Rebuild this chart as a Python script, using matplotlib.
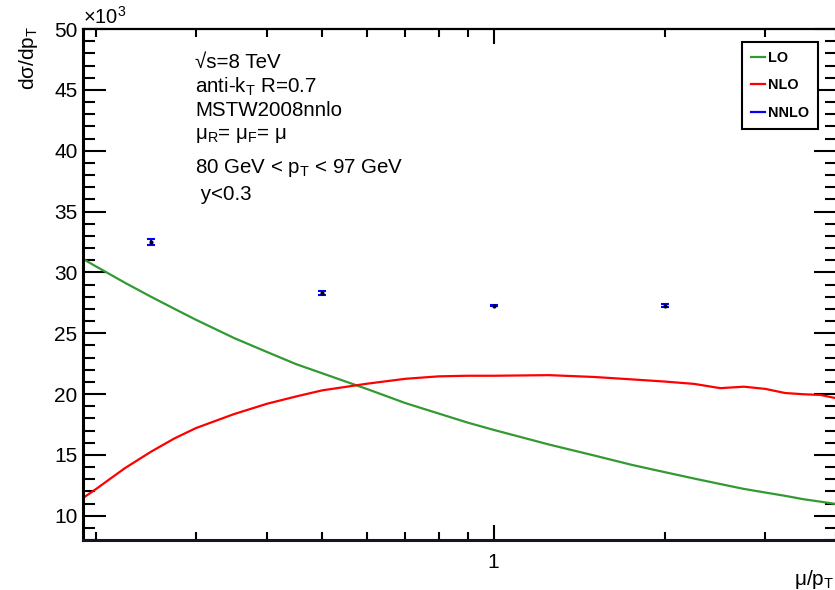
import matplotlib
matplotlib.use("Agg")
import matplotlib.pyplot as plt
from matplotlib.lines import Line2D
from matplotlib.ticker import LogLocator, NullFormatter, FixedFormatter, FixedLocator, MultipleLocator

# scale choice mu/pT and cross sections (units of 10^3)
mu = [0.19, 0.2, 0.225, 0.25, 0.275, 0.3, 0.35, 0.4, 0.45, 0.5, 0.6, 0.7, 0.8, 0.9, 1.0,
      1.25, 1.5, 1.75, 2.0, 2.25, 2.5, 2.75, 3.0, 3.25, 3.5, 3.75, 4.0]
lo = [31.1, 30.5, 29.15, 28.0, 27.0, 26.1, 24.6, 23.45, 22.45, 21.7, 20.4, 19.25, 18.4, 17.65,
      17.05, 15.85, 14.95, 14.17, 13.57, 13.05, 12.6, 12.2, 11.9, 11.63, 11.35, 11.15, 10.95]
nlo = [11.45, 12.17, 13.9, 15.25, 16.35, 17.2, 18.35, 19.2, 19.8, 20.3, 20.85, 21.25, 21.45,
       21.5, 21.5, 21.55, 21.4, 21.2, 21.02, 20.83, 20.48, 20.6, 20.42, 20.08, 19.98, 19.92,
       19.65]

nnlo_mu = [0.25, 0.5, 1.0, 2.0]
nnlo = [32.5, 28.3, 27.27, 27.27]
nnlo_err = [0.22, 0.15, 0.04, 0.1]

info_lines = [r"√s=8 TeV",
              r"anti-k$_{\rm T}$ R=0.7",
              r"MSTW2008nnlo",
              r"μ$_{\rm R}$= μ$_{\rm F}$= μ",
              r"80 GeV < p$_{\rm T}$ < 97 GeV",
              r" y<0.3"]

plt.rcParams['font.family'] = ['Liberation Sans', 'DejaVu Sans']
plt.rcParams['mathtext.fontset'] = 'custom'
plt.rcParams['mathtext.rm'] = 'Liberation Sans'
plt.rcParams['mathtext.it'] = 'Liberation Sans'

fig = plt.figure(figsize=(8.35, 5.9), dpi=100)
ax = fig.add_axes([83 / 835, 50 / 590, 753.5 / 835, 511 / 590])

l_lo, = ax.plot(mu, lo, color='#339933', lw=1.6)
l_nlo, = ax.plot(mu, nlo, color='#ff0000', lw=1.6)
ax.errorbar(nnlo_mu, nnlo, yerr=nnlo_err, fmt='o', ms=2, color='black',
            ecolor='#0000ff', elinewidth=1.5, capsize=3, capthick=1.5)

ax.set_xscale('log')
ax.set_xlim(0.19, 4.0)
ax.set_ylim(8, 50)

ax.xaxis.set_major_locator(FixedLocator([1.0]))
ax.xaxis.set_major_formatter(FixedFormatter(['1']))
ax.xaxis.set_minor_locator(LogLocator(base=10, subs=range(2, 10)))
ax.xaxis.set_minor_formatter(NullFormatter())
ax.yaxis.set_major_locator(MultipleLocator(5))
ax.yaxis.set_minor_locator(MultipleLocator(1))

ax.tick_params(axis='both', which='both', direction='in', top=True, right=True, width=1.5)
ax.tick_params(axis='y', which='major', length=16.5, labelsize=15, pad=4)
ax.tick_params(axis='y', which='minor', length=8.5)
ax.tick_params(axis='x', which='major', length=11, labelsize=15, pad=9)
ax.tick_params(axis='x', which='minor', length=5.5)
for s in ax.spines.values():
    s.set_linewidth(1.6)
ax.spines['left'].set_linewidth(2.2)
ax.spines['bottom'].set_linewidth(2.2)
ax.spines['bottom'].set_color('#15152a')

ax.set_xlabel(r"μ/p$_{\rm T}$", fontsize=15, loc='right')
ax.xaxis.set_label_coords(0.997, -0.054)
ax.set_ylabel(r"dσ/dp$_{\rm T}$", fontsize=15, loc='top')
ax.yaxis.set_label_coords(-0.0574, 1.006)
ax.text(0.0, 1.003, r"×10$^{3}$", transform=ax.transAxes, fontsize=14.5,
        ha='left', va='bottom')

y0 = 0.935
steps = [0, 0.048, 0.094, 0.143, 0.207, 0.258]
for line, dy in zip(info_lines, steps):
    ax.text(0.1485, y0 - dy, line, transform=ax.transAxes, fontsize=14.8,
            ha='left', va='center')

handles = [l_lo, l_nlo, Line2D([], [], color='#0000ff', lw=1.6)]
leg = ax.legend(handles, ['LO', 'NLO', 'NNLO'], loc='upper right',
                bbox_to_anchor=(0.9755, 0.9746), frameon=True,
                fancybox=False, edgecolor='black', framealpha=1,
                prop={'weight': 'bold', 'size': 10.4}, handlelength=0.95,
                handletextpad=0.25, borderpad=0.6, labelspacing=0.95,
                borderaxespad=0)
leg.get_frame().set_linewidth(1.5)

fig.savefig("out.png", dpi=100)
